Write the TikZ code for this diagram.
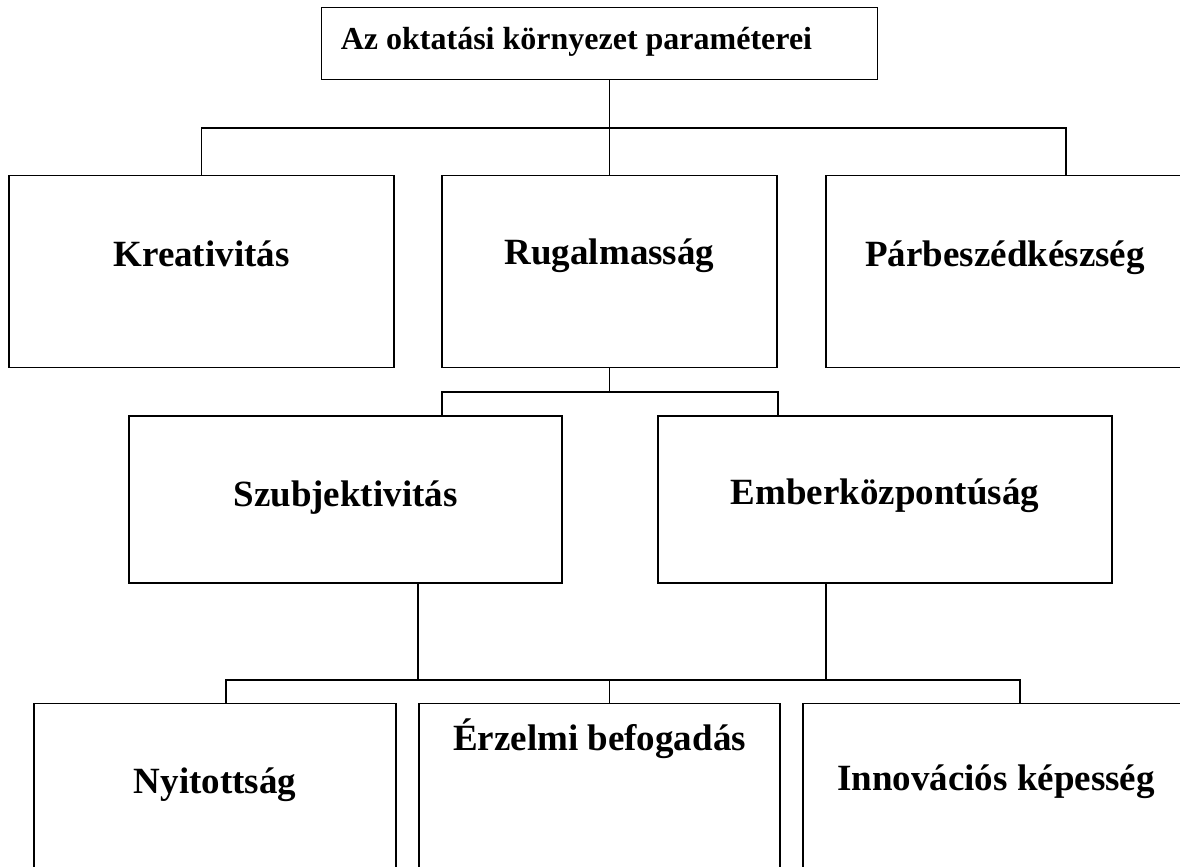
\documentclass[tikz,border=0pt]{standalone}
\usepackage{fontspec}
\setmainfont{Liberation Serif}
\tikzset{
    box/.style={draw, line width=0.85pt, inner sep=0pt},
    lbl/.style={font=\fontsize{18.5}{22}\selectfont\bfseries, anchor=base, inner sep=0pt},
}
\begin{document}
\begin{tikzpicture}[x=0.5pt, y=-0.5pt, line width=0.85pt]
                \clip (0,0) rectangle (1180,867);

                \node[box, minimum width=278pt, minimum height=36pt] (top) at (599.6,43.5) {};
                \node[box, minimum width=192.5pt, minimum height=96pt] (kreat) at (201.5,271.5) {};
                \node[box, minimum width=167.5pt, minimum height=96pt] (rugal) at (609.5,271.5) {};
                \node[box, minimum width=179pt, minimum height=96pt] (parb) at (1005,271.5) {};
                \node[box, minimum width=216.5pt, minimum height=83.5pt] (szubj) at (345.5,499.5) {};
                \node[box, minimum width=227pt, minimum height=83.5pt] (ember) at (885,499.5) {};
                \node[box, minimum width=181pt, minimum height=98pt] (nyit) at (215,801.5) {};
                \node[box, minimum width=180.5pt, minimum height=98pt] (erz) at (599.5,801.5) {};
                \node[box, minimum width=193pt, minimum height=98pt] (innov) at (996,801.5) {};

                \node[lbl, anchor=base west, font=\fontsize{16}{19}\selectfont\bfseries] (toptxt) at (340,49) {Az oktatási környezet paraméterei};
                \node[lbl] (kreattxt) at (201.5,266) {Kreativitás};
                \node[lbl] (rugaltxt) at (609.5,264) {Rugalmasság};
                \node[lbl] (parbtxt) at (1005,266) {Párbeszédkészség};
                \node[lbl] (szubjtxt) at (345.5,506) {Szubjektivitás};
                \node[lbl] (embertxt) at (885,504) {Emberközpontúság};
                \node[lbl] (nyittxt) at (215,793) {Nyitottság};
                \node[lbl] (erztxt) at (599.5,750) {Érzelmi befogadás};
                \node[lbl] (innovtxt) at (996,790) {Innovációs képesség};

                % branching lines
                \coordinate (bus1) at (609.5,128);
                \coordinate (bus2) at (609.5,392);
                \coordinate (bus3) at (609.5,680);
                \draw (rugal.north |- top.south) -- (rugal.north);
                \draw (kreat.north) |- (bus1) -| (parb.north -| 1066,0);
                \draw (rugal.south) -- (bus2);
                \draw (szubj.north -| 442,0) |- (bus2) -| (ember.north -| 778,0);
                \draw (szubj.south -| 418,0) -- (bus3 -| 418,0);
                \draw (ember.south -| 826,0) -- (bus3 -| 826,0);
                \draw (nyit.north -| 226,0) |- (bus3) -| (innov.north -| 1020,0);
                \draw (erz.north -| bus3) -- (bus3);

            \end{tikzpicture}
\end{document}
